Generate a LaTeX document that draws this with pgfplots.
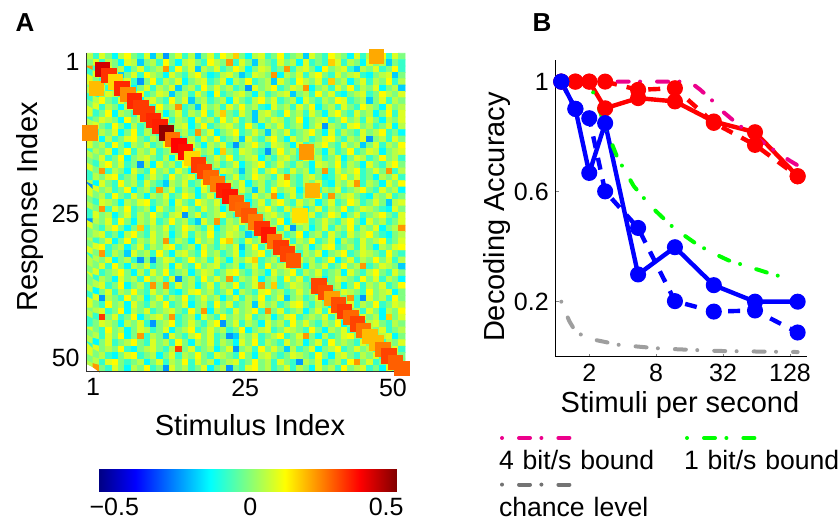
\documentclass[border=0pt]{standalone}
\usepackage{fontspec}
\setmainfont{Liberation Sans}
\usepackage{pgfplots}
\pgfplotsset{compat=1.18}
\begin{document}
\begin{tikzpicture}
\path[use as bounding box] (0pt,0pt) rectangle (419.5pt,-261.5pt);
\node[font=\bfseries\fontsize{13}{15}\selectfont] at (12.5pt,-11.25pt) {A};
\node[font=\bfseries\fontsize{13}{15}\selectfont] at (271pt,-11.25pt) {B};
% ---------------- Panel A ----------------
\begin{axis}[
  at={(43.35pt,-185.85pt)}, anchor=south west,
  scale only axis, width=159.15pt, height=159.2pt,
  xmin=0.5, xmax=50.5, ymin=0.5, ymax=50.5,
  axis lines*=left, axis line style={line width=0.6pt, black!80},
  axis on top, clip=false,
  colormap/jet,
  point meta min=-56, point meta max=54,
  xtick={1.49,25.4,48.6}, xticklabels={1,25,50},
  ytick={2.7,25.3,49.13}, yticklabels={50,25,1},
  major tick length=0pt,
  tick label style={font=\fontsize{12.5}{15}\selectfont},
  xlabel={Stimulus Index}, ylabel={Response Index},
  label style={font=\fontsize{14.5}{17}\selectfont},
  xlabel style={at={(axis description cs:0.513,-0.1675)}, anchor=center},
  ylabel style={at={(axis description cs:-0.178,0.517)}, anchor=center},
  colorbar horizontal,
  colorbar style={at={(parent axis.south west)}, anchor=north west,
    xshift=5.65pt, yshift=-40.15pt, scale only axis,
    width=149.5pt, height=11pt,
    xtick={-50,0,50}, xticklabels={−0.5,0,0.5},
    major tick length=0pt, axis line style={draw=none},
    tick label style={font=\fontsize{12.5}{15}\selectfont}},
]
\addplot[matrix plot*, mesh/cols=50, point meta=explicit, forget plot]
 table[header=false, row sep=\\, x expr={mod(\coordindex,50)+1}, y expr={50-floor(\coordindex/50)}, meta index=0] {
5\\-9\\9\\-1\\-15\\5\\13\\-1\\-9\\9\\
-20\\5\\-26\\-1\\9\\-9\\5\\-20\\-1\\9\\
-9\\13\\5\\18\\-1\\-15\\5\\9\\-9\\-1\\
13\\-9\\-1\\5\\-20\\9\\-1\\-9\\13\\5\\
-1\\-15\\9\\-9\\5\\22\\13\\-9\\9\\-1\\
-1\\9\\-9\\5\\-1\\-15\\9\\5\\-20\\-1\\
5\\-9\\13\\-1\\-15\\5\\9\\-1\\-9\\13\\
5\\-1\\24\\-9\\9\\-1\\-20\\5\\-1\\-9\\
9\\-1\\5\\-15\\9\\-9\\-1\\-9\\18\\9\\
-9\\5\\-1\\-15\\9\\-1\\5\\-20\\-1\\-9\\
24\\-9\\45\\9\\-1\\5\\-15\\-1\\9\\-9\\
-1\\5\\24\\-9\\13\\-1\\9\\-20\\5\\-1\\
9\\-9\\-1\\13\\5\\-15\\-1\\9\\5\\-9\\
-1\\24\\-9\\5\\9\\-1\\-15\\13\\-1\\5\\
9\\-9\\-20\\5\\-1\\9\\-9\\-1\\13\\-9\\
-9\\9\\-1\\35\\5\\-20\\-1\\9\\-9\\13\\
5\\-1\\-15\\9\\-1\\-9\\5\\13\\-1\\-15\\
-9\\5\\9\\-1\\-20\\-9\\9\\5\\-1\\24\\
-15\\5\\-1\\9\\-9\\5\\13\\-1\\-9\\9\\
-1\\5\\9\\-9\\-15\\-1\\5\\9\\-20\\-1\\
9\\-1\\-9\\5\\17\\-1\\9\\-9\\-26\\-1\\
13\\-9\\5\\-1\\9\\-15\\-1\\5\\9\\-9\\
-1\\9\\-15\\5\\-1\\13\\-9\\-1\\5\\-20\\
9\\-1\\-9\\13\\5\\-1\\9\\-9\\18\\-1\\
5\\-15\\-1\\9\\-9\\5\\-1\\13\\-9\\5\\
-1\\20\\9\\-9\\-1\\36\\5\\-15\\-1\\9\\
-9\\5\\-1\\9\\-20\\-1\\5\\-9\\13\\-1\\
9\\-1\\5\\-9\\-1\\-26\\9\\-1\\5\\13\\
-9\\-1\\9\\5\\24\\-15\\-1\\5\\-9\\9\\
-1\\13\\-9\\5\\-1\\9\\-15\\-1\\5\\-20\\
5\\-15\\-1\\9\\5\\-9\\25\\-1\\13\\-9\\
-1\\9\\5\\-20\\-1\\5\\-9\\9\\-1\\-15\\
13\\-9\\-1\\5\\9\\-1\\-15\\5\\-9\\-1\\
5\\9\\-20\\-1\\5\\-9\\13\\-1\\9\\-9\\
-15\\-1\\5\\9\\-9\\-1\\13\\5\\-1\\9\\
-9\\5\\13\\-1\\-9\\9\\-1\\36\\-15\\5\\
9\\-1\\-9\\13\\-1\\9\\-20\\-1\\5\\-9\\
-1\\5\\-15\\9\\-1\\-9\\5\\13\\-1\\9\\
-9\\-1\\5\\-15\\9\\-1\\-9\\5\\-1\\13\\
9\\-9\\-1\\5\\-20\\-1\\9\\-9\\5\\-1\\
-1\\9\\-9\\5\\-1\\-15\\5\\9\\34\\-1\\
-9\\13\\-1\\5\\24\\-9\\-1\\-20\\9\\-1\\
5\\-9\\9\\-1\\13\\-1\\5\\-9\\-15\\9\\
-1\\5\\-9\\9\\-1\\13\\-15\\-1\\5\\-9\\
9\\-1\\-9\\13\\5\\-1\\-15\\9\\-1\\5\\
9\\-9\\-1\\13\\-15\\5\\-1\\-9\\9\\34\\
-1\\5\\-15\\-1\\9\\-9\\5\\-1\\13\\-9\\
5\\18\\-1\\-9\\9\\-1\\-20\\5\\9\\-1\\
-9\\13\\-1\\5\\-9\\9\\-1\\-15\\5\\13\\
-1\\-9\\9\\-1\\5\\-15\\-1\\13\\-9\\9\\
-9\\-1\\9\\5\\-1\\-15\\13\\-1\\5\\-9\\
36\\-1\\9\\-9\\5\\-1\\-15\\9\\-1\\5\\
-9\\13\\-1\\9\\-9\\-1\\-20\\5\\-1\\9\\
5\\-9\\-1\\13\\-15\\-1\\5\\9\\-9\\-1\\
13\\-1\\5\\-9\\9\\-1\\-15\\5\\-1\\9\\
5\\9\\-1\\-9\\13\\-1\\-15\\5\\-9\\-1\\
9\\37\\-9\\-1\\5\\9\\-15\\-1\\13\\-9\\
-1\\5\\9\\-1\\-9\\13\\-1\\-15\\5\\-1\\
9\\-9\\-1\\5\\-15\\-1\\9\\-26\\5\\-1\\
-9\\9\\13\\-1\\5\\-9\\-1\\9\\-15\\5\\
25\\-9\\5\\-1\\9\\-15\\-1\\13\\-9\\5\\
-1\\-9\\52\\9\\-1\\5\\-9\\24\\-1\\9\\
-15\\-1\\5\\13\\-9\\-1\\9\\-1\\-20\\5\\
-1\\9\\-9\\-1\\5\\13\\-1\\-15\\9\\-9\\
5\\-1\\-9\\9\\-1\\5\\13\\-9\\-1\\-15\\
-1\\9\\-15\\5\\-9\\-1\\9\\13\\-1\\-9\\
5\\-1\\9\\28\\-15\\-1\\5\\-9\\9\\-1\\
13\\-9\\-1\\5\\-20\\9\\-1\\-9\\5\\13\\
-1\\-15\\9\\-1\\5\\-9\\-1\\9\\13\\-1\\
-9\\5\\-1\\9\\-26\\-1\\5\\-9\\9\\-1\\
9\\-1\\5\\-9\\13\\-1\\-15\\5\\-1\\9\\
-9\\-1\\13\\5\\40\\-9\\9\\-1\\-15\\5\\
-1\\9\\-9\\-26\\-1\\5\\13\\-1\\-9\\9\\
5\\-1\\-15\\9\\-9\\-1\\5\\13\\-1\\-9\\
9\\-1\\5\\-20\\-1\\9\\-9\\5\\-1\\13\\
-9\\5\\-1\\9\\-15\\-1\\13\\-9\\5\\-1\\
9\\-9\\-1\\5\\-1\\39\\-9\\9\\-1\\5\\
-15\\18\\-1\\-9\\9\\5\\-1\\-9\\-26\\-1\\
13\\-1\\5\\-9\\24\\9\\-1\\-15\\5\\-9\\
-1\\13\\-9\\-1\\9\\5\\-15\\-1\\5\\9\\
5\\-1\\9\\-9\\-1\\13\\-15\\-1\\5\\9\\
-1\\-9\\5\\-15\\9\\-1\\17\\5\\-9\\-1\\
9\\-1\\13\\-9\\-1\\5\\9\\-15\\-1\\-9\\
5\\9\\-1\\-9\\13\\-1\\5\\-9\\-1\\9\\
-15\\-1\\9\\5\\-9\\-1\\13\\-1\\5\\-9\\
-1\\-9\\5\\13\\-1\\9\\-9\\-1\\-26\\5\\
-15\\9\\-1\\5\\-9\\13\\-1\\34\\9\\-1\\
5\\-9\\-1\\9\\-15\\-1\\5\\13\\-9\\-1\\
9\\-1\\-9\\5\\-1\\-15\\9\\5\\-1\\13\\
-9\\5\\-1\\-15\\9\\-1\\-9\\5\\13\\-1\\
9\\-1\\24\\-9\\5\\-1\\-15\\9\\-1\\-9\\
13\\-1\\5\\-9\\9\\-1\\-15\\5\\33\\-1\\
-9\\9\\5\\-1\\-20\\-1\\9\\-9\\5\\13\\
-1\\-9\\9\\-1\\5\\-15\\-1\\24\\-9\\9\\
-1\\5\\13\\-9\\-1\\9\\-1\\24\\-9\\5\\
-9\\5\\-1\\9\\13\\-9\\-1\\5\\-15\\-1\\
9\\-1\\-9\\13\\-1\\5\\9\\-9\\-1\\29\\
5\\-15\\-1\\9\\-9\\-1\\13\\5\\-1\\-9\\
9\\24\\-1\\-9\\5\\9\\-1\\-15\\-9\\5\\
13\\-1\\9\\-9\\-1\\-15\\5\\-1\\9\\-9\\
5\\-15\\9\\-1\\-9\\13\\-1\\5\\-9\\9\\
-1\\-9\\-20\\5\\-1\\9\\-9\\-1\\13\\-1\\
27\\-9\\5\\-1\\9\\-15\\-1\\5\\-9\\-1\\
9\\13\\-1\\-9\\5\\-1\\9\\-9\\-15\\5\\
-1\\9\\24\\-9\\5\\-1\\-15\\9\\-1\\13\\
-26\\9\\-1\\5\\-9\\-1\\13\\-15\\-1\\5\\
-9\\24\\-1\\9\\-9\\5\\-1\\-15\\9\\-1\\
5\\37\\-9\\-1\\9\\-1\\-20\\5\\-9\\13\\
-1\\5\\9\\-15\\-1\\21\\-9\\5\\-1\\9\\
-9\\-1\\5\\13\\-1\\-9\\9\\-1\\5\\-15\\
9\\-1\\5\\-9\\13\\-1\\-9\\9\\-1\\-15\\
5\\-1\\9\\-9\\-1\\13\\5\\-15\\-1\\9\\
-9\\-1\\38\\5\\-1\\-9\\9\\-1\\5\\24\\
-15\\-1\\9\\-9\\5\\-1\\13\\-9\\24\\-1\\
5\\9\\-1\\-9\\-15\\5\\-1\\9\\-9\\-1\\
-1\\-9\\9\\5\\-1\\-15\\5\\-1\\9\\13\\
-9\\-1\\5\\-15\\9\\-1\\-9\\13\\5\\-1\\
9\\-9\\-1\\30\\5\\-15\\-1\\9\\-9\\5\\
13\\-1\\-9\\9\\-1\\5\\-15\\-1\\9\\-9\\
-1\\13\\5\\-9\\-1\\9\\-1\\-20\\5\\9\\
5\\-1\\24\\-9\\9\\-1\\13\\-9\\-1\\5\\
-15\\9\\-1\\-9\\5\\13\\-1\\-9\\9\\-1\\
5\\-15\\-1\\9\\29\\-9\\-1\\5\\13\\-1\\
-9\\9\\-1\\5\\-15\\-1\\9\\-9\\5\\-1\\
13\\-9\\-1\\9\\5\\-1\\-9\\-15\\9\\-1\\
-9\\9\\-1\\5\\-15\\-1\\9\\-9\\5\\-1\\
13\\-1\\-9\\5\\9\\-26\\-1\\9\\-9\\-1\\
5\\13\\-1\\-9\\9\\31\\-15\\-1\\5\\9\\
-1\\-9\\5\\16\\-1\\9\\-9\\-1\\13\\5\\
-15\\-1\\9\\-9\\-1\\5\\13\\-1\\-9\\9\\
-26\\5\\-1\\9\\-9\\13\\-1\\-15\\5\\-1\\
9\\-9\\-1\\13\\-1\\5\\-9\\-20\\9\\-1\\
24\\-9\\5\\-1\\9\\-1\\27\\-9\\5\\-1\\
13\\-15\\-1\\9\\5\\-9\\-1\\9\\-1\\-9\\
5\\13\\-1\\-15\\9\\-1\\5\\-9\\-1\\9\\
9\\-1\\-9\\5\\13\\-1\\-15\\-1\\18\\-9\\
5\\-1\\9\\-9\\-1\\13\\5\\-1\\-9\\9\\
-15\\-1\\5\\9\\-9\\-1\\13\\35\\-1\\5\\
-9\\9\\-26\\-1\\5\\-15\\-1\\9\\-9\\5\\
-1\\13\\-9\\5\\-1\\9\\-15\\-1\\5\\24\\
-1\\5\\9\\-9\\-1\\-15\\5\\13\\-1\\-9\\
9\\-1\\5\\-15\\-1\\9\\-9\\5\\-1\\13\\
-9\\-1\\9\\5\\-1\\-20\\-9\\9\\38\\-1\\
5\\-9\\-1\\13\\-15\\-1\\5\\-9\\9\\-1\\
-9\\9\\-1\\5\\13\\-1\\-9\\-15\\-1\\5\\
5\\-9\\-1\\9\\-15\\-1\\13\\-9\\5\\-1\\
9\\-1\\24\\-9\\5\\-1\\-15\\9\\-1\\5\\
-9\\13\\18\\-1\\-9\\9\\-1\\5\\-15\\28\\
-1\\9\\-9\\5\\-1\\13\\-9\\-1\\9\\-15\\
5\\-1\\-9\\9\\-1\\5\\13\\-9\\-1\\9\\
-1\\9\\13\\-9\\-1\\5\\-15\\-1\\9\\-9\\
5\\-1\\9\\13\\-9\\-1\\5\\-15\\9\\-1\\
-9\\5\\-1\\9\\-20\\-1\\13\\-9\\5\\-1\\
34\\-9\\9\\-1\\5\\-15\\-1\\9\\13\\-9\\
-1\\5\\-9\\9\\-1\\-15\\5\\-1\\9\\13\\
9\\-1\\24\\-9\\5\\-1\\-20\\9\\-1\\5\\
-9\\13\\-1\\-15\\5\\9\\-1\\-9\\13\\-1\\
5\\-9\\-1\\9\\-15\\-1\\5\\13\\-9\\-1\\
9\\33\\-1\\-9\\5\\-1\\9\\-15\\-1\\5\\
13\\-9\\-1\\9\\5\\-1\\-9\\13\\-1\\-9\\
-9\\5\\-1\\9\\-15\\-1\\5\\-9\\-26\\-1\\
-26\\-1\\9\\5\\-9\\-1\\13\\-1\\5\\-9\\
9\\-1\\-15\\5\\-1\\9\\18\\-9\\-1\\5\\
-9\\-1\\31\\9\\-1\\5\\-9\\-1\\13\\-15\\
-1\\9\\-9\\5\\-1\\13\\-1\\9\\-9\\5\\
5\\-1\\9\\-9\\13\\-1\\-15\\5\\-1\\9\\
-9\\-1\\5\\-15\\9\\-1\\-9\\13\\-1\\5\\
9\\-9\\-1\\5\\-15\\-1\\9\\-9\\13\\-1\\
5\\9\\-9\\-1\\-15\\5\\-1\\9\\-9\\-1\\
13\\-1\\5\\24\\-9\\-1\\9\\5\\-1\\-20\\
-1\\9\\-9\\-1\\5\\13\\-1\\-15\\5\\-9\\
9\\-1\\13\\-9\\-1\\5\\-15\\-1\\9\\5\\
-9\\-1\\9\\13\\-1\\-9\\5\\-1\\-15\\9\\
-1\\5\\13\\-9\\5\\-1\\9\\-9\\-1\\5\\
-15\\9\\-1\\-9\\5\\13\\-1\\-9\\9\\-1\\
9\\-9\\5\\-1\\-15\\9\\-1\\5\\-9\\13\\
-1\\5\\-9\\9\\-26\\-1\\5\\-9\\13\\-1\\
9\\-1\\24\\-9\\5\\-1\\9\\-15\\-1\\5\\
-9\\13\\-1\\9\\-9\\-1\\5\\-15\\-1\\9\\
5\\-1\\-9\\13\\-1\\9\\-9\\5\\-1\\-15\\
-1\\5\\9\\-9\\-1\\13\\-15\\-1\\5\\-9\\
24\\-1\\24\\-9\\9\\-1\\5\\-15\\-1\\9\\
-9\\5\\-1\\13\\-9\\-1\\9\\24\\-1\\18\\
-9\\-1\\9\\5\\-1\\-9\\33\\9\\-1\\5\\
-15\\-1\\13\\-9\\5\\-1\\9\\-9\\-1\\13\\
5\\-15\\-1\\9\\-9\\5\\-1\\13\\-1\\-9\\
9\\-1\\5\\-9\\-15\\-1\\9\\13\\-1\\5\\
-9\\-1\\9\\-15\\5\\-1\\-9\\9\\13\\-1\\
5\\-9\\-1\\9\\-1\\5\\-15\\32\\-9\\-1\\
9\\5\\-1\\-9\\13\\-1\\5\\9\\-15\\-1\\
-9\\9\\-26\\5\\-1\\-9\\13\\-1\\5\\-15\\
-1\\9\\-9\\5\\-1\\13\\-9\\-1\\9\\-1\\
5\\-15\\-1\\9\\-9\\5\\-1\\13\\-9\\-1\\
9\\-20\\-1\\5\\-9\\-1\\9\\-15\\23\\5\\
-1\\24\\-9\\-26\\9\\-1\\5\\-9\\13\\-1\\
9\\-1\\-9\\13\\-1\\5\\-15\\9\\-1\\-9\\
5\\-1\\13\\-9\\-1\\9\\-15\\-1\\5\\-9\\
13\\-1\\9\\-9\\-1\\5\\-20\\9\\-1\\5\\
-9\\-1\\9\\13\\-1\\-9\\5\\-1\\-15\\32\\
-1\\9\\-9\\5\\-1\\13\\-9\\-1\\9\\5\\
-1\\5\\9\\-9\\-1\\13\\-15\\5\\-1\\9\\
-9\\-1\\5\\9\\-1\\-9\\13\\-1\\24\\-15\\
5\\-1\\-9\\9\\-1\\5\\13\\-9\\24\\-1\\
9\\-9\\-1\\5\\-15\\-1\\9\\-9\\13\\-1\\
34\\-1\\5\\-9\\9\\-1\\-15\\5\\-1\\13\\
5\\-9\\35\\-1\\9\\-9\\-1\\13\\-15\\-1\\
5\\9\\-1\\24\\-9\\-1\\5\\-15\\9\\-1\\
-9\\13\\-1\\5\\-1\\9\\-9\\-1\\5\\-15\\
-1\\9\\13\\-9\\-1\\5\\-1\\9\\-9\\5\\
-1\\29\\-9\\9\\-1\\5\\-15\\18\\-1\\9\\
-9\\-1\\9\\5\\-1\\-15\\5\\-1\\9\\-9\\
-26\\-1\\5\\13\\-9\\-1\\9\\-1\\-9\\5\\
13\\-26\\-1\\9\\-9\\5\\-1\\-15\\9\\-1\\
5\\-9\\13\\-1\\9\\-1\\-9\\5\\-1\\13\\
-15\\-1\\33\\-9\\5\\9\\-1\\-9\\5\\-1\\
9\\-1\\-9\\13\\-1\\5\\-15\\-1\\9\\5\\
-9\\-1\\9\\-15\\-1\\5\\13\\-9\\-1\\9\\
-1\\5\\-9\\-1\\13\\-15\\-1\\5\\9\\-9\\
-1\\9\\5\\-1\\-9\\13\\-1\\-15\\5\\-1\\
9\\-9\\-1\\28\\5\\-1\\9\\-9\\-1\\5\\
-1\\5\\-9\\9\\-1\\13\\-15\\-1\\24\\-9\\
5\\-1\\-20\\9\\-1\\-9\\5\\13\\-1\\9\\
-9\\-1\\-26\\-20\\5\\-1\\9\\-9\\-1\\5\\
13\\-9\\-1\\9\\24\\-1\\-15\\5\\-9\\-1\\
9\\13\\-1\\-9\\20\\-1\\5\\9\\-15\\-1\\
5\\-15\\-1\\9\\-9\\-1\\5\\13\\-1\\-9\\
9\\-1\\5\\-9\\13\\-1\\-15\\5\\-1\\9\\
-9\\5\\-1\\-15\\9\\-1\\13\\-9\\5\\-1\\
-9\\9\\-1\\5\\-15\\-1\\9\\-9\\13\\-1\\
5\\-1\\-9\\9\\-1\\20\\-9\\5\\-1\\9\\
-9\\9\\-1\\5\\-1\\13\\-9\\-15\\-1\\5\\
9\\-1\\-9\\5\\33\\-1\\9\\-9\\-1\\5\\
-15\\-1\\9\\-26\\-1\\5\\-9\\13\\-1\\9\\
-1\\-20\\5\\-9\\-1\\9\\-15\\-1\\5\\13\\
-9\\-1\\9\\-1\\5\\-9\\27\\-1\\9\\-9\\
9\\-1\\5\\-9\\-15\\-1\\9\\13\\-9\\-1\\
5\\-15\\-1\\9\\-9\\5\\-1\\13\\-1\\-9\\
9\\5\\-1\\-9\\13\\-1\\-15\\5\\9\\-1\\
-9\\-1\\9\\5\\-1\\-9\\13\\-1\\-15\\5\\
9\\-1\\-9\\5\\-1\\9\\-9\\33\\5\\-1\\
-1\\5\\-9\\9\\13\\-1\\-9\\-1\\5\\-15\\
-1\\9\\-9\\5\\-1\\13\\-9\\9\\-1\\5\\
-15\\-1\\5\\9\\-9\\-1\\13\\-1\\5\\-9\\
9\\-1\\-9\\-26\\5\\-1\\9\\-15\\-1\\5\\
-9\\13\\24\\-1\\9\\-9\\-1\\5\\30\\-1\\
5\\24\\-1\\-9\\9\\-1\\-15\\5\\-1\\13\\
-9\\-1\\-26\\9\\-1\\5\\-9\\-1\\9\\-15\\
-1\\5\\-26\\-1\\-9\\9\\13\\-1\\5\\-9\\
-1\\9\\-9\\5\\-1\\-15\\9\\-1\\5\\-9\\
13\\-1\\5\\9\\-9\\-1\\-15\\9\\-1\\30\\
};
\addplot[scatter, only marks, mark=square*, mark size=3.6pt, point meta=explicit,
  scatter/use mapped color={draw=mapped color, fill=mapped color}, forget plot]
 coordinates {
 (1,38)[25] (2,45)[20]
 (3,48)[45] (4,47)[35] (5,46)[17] (6,45)[36] (7,44)[25] (8,43)[36] (9,42)[34] (10,41)[34]
 (11,40)[36] (12,39)[37] (13,38)[52] (14,37)[28] (15,36)[40] (16,35)[39] (17,34)[17] (18,33)[34]
 (19,32)[33] (20,31)[29] (21,30)[27] (22,29)[37] (23,28)[38] (24,27)[30] (25,26)[29] (26,25)[31]
 (27,24)[27] (28,23)[35] (29,22)[38] (30,21)[28] (31,20)[34] (32,19)[33] (33,18)[31]
 (34,25)[16] (35,35)[24] (36,29)[21]
 (37,14)[33] (38,13)[32] (39,12)[23] (40,11)[32] (41,10)[34] (42,9)[29] (43,8)[33] (44,7)[28]
 (45,6)[20] (46,50)[22] (46,5)[20] (47,4)[27] (48,3)[33] (49,2)[30] (50,1)[30]
 };
\end{axis}
% ---------------- Panel B ----------------
\begin{axis}[
  at={(277.9pt,-178.35pt)}, anchor=south west,
  scale only axis, width=125.45pt, height=148.55pt,
  xmode=log, log basis x=2, xmin=1, xmax=181, ymin=0, ymax=1.08,
  axis lines*=left, axis line style={line width=0.6pt, black},
  tick align=inside, major tick length=1.5pt, minor xtick={}, minor ytick={},
  xtick={2,8,32,128}, xticklabels={2,8,32,128},
  ytick={0.2,0.6,1}, yticklabels={0.2,0.6,1},
  tick label style={font=\fontsize{12.5}{15}\selectfont},
  yticklabel style={anchor=east},
  xlabel={Stimuli per second}, ylabel={Decoding Accuracy},
  label style={font=\fontsize{14.5}{17}\selectfont},
  xlabel style={at={(axis description cs:0.495,-0.164)}, anchor=center},
  ylabel style={at={(axis description cs:-0.235,0.47)}, anchor=center},
  clip=false,
  legend columns=2, legend cell align=left,
  legend style={at={(axis description cs:-0.2423,-0.314)}, anchor=north west,
    draw=none, fill=none, inner sep=0pt, outer sep=0pt, row sep=13.3pt, column sep=0pt,
    nodes={inner sep=0pt, text width=90.5pt, text height=10pt, text depth=0pt, align=left,
      font=\fontsize{13.3}{15}\selectfont}},
  legend image code/.code={\path (0pt,0pt); \draw[#1, overlay] (2.5pt,11pt) -- (39pt,11pt);},
]
\addplot[red, line width=2.2pt, mark=*, mark size=2.9pt, forget plot] coordinates {
 (1.12,1) (1.5,1) (2,1) (2.78,0.903) (5.5,0.94) (11.8,0.928) (26.4,0.855) (62,0.816) (150,0.656)};
\addplot[red, line width=2.2pt, dash pattern=on 6pt off 5pt, mark=*, mark size=2.9pt, mark options={solid}, forget plot] coordinates {
 (1.12,1) (1.5,1) (2,1) (2.78,1) (5.5,0.97) (11.8,0.976) (26.4,0.85) (62,0.77) (150,0.656)};
\addplot[magenta, line width=2pt, line cap=round, dash pattern=on 0pt off 8.5pt on 5.5pt off 5.7pt, forget plot] coordinates {
 (1.12,1) (16,1) (20,0.97) (25,0.935) (32,0.89) (45,0.84) (64,0.795) (90,0.753) (128,0.712) (148,0.697)};
\addplot[blue, line width=2.2pt, mark=*, mark size=2.9pt, forget plot] coordinates {
 (1.12,1) (1.5,0.901) (2,0.668) (2.78,0.849) (5.5,0.299) (11.8,0.398) (26.4,0.26) (62,0.2) (150,0.2)};
\addplot[blue, line width=2.2pt, dash pattern=on 6pt off 5pt, mark=*, mark size=2.9pt, mark options={solid}, forget plot] coordinates {
 (1.12,1) (1.5,0.901) (2,0.867) (2.78,0.601) (5.5,0.468) (11.8,0.202) (26.4,0.164) (62,0.168) (150,0.088)};
\addplot[green, line width=2pt, line cap=round, dash pattern=on 0pt off 8.5pt on 5.5pt off 5.7pt, forget plot] coordinates {
 (1.12,1) (2,1) (2.38,0.916) (2.92,0.813) (3.6,0.722) (5.03,0.62) (7.15,0.547) (10.8,0.478) (13.3,0.45) (18.7,0.408) (25.5,0.378) (35.9,0.35) (54.3,0.327) (79.4,0.306) (118,0.286)};
\addplot[black!38, line width=2pt, line cap=round, dash pattern=on 0pt off 8.5pt on 5.5pt off 5.7pt, forget plot] coordinates {
 (1.12,0.2) (1.32,0.13) (1.52,0.088) (2.14,0.063) (3.71,0.043) (7.9,0.031) (12.4,0.027) (28.3,0.021) (60,0.019) (150,0.017)};
\addlegendimage{magenta, line width=2pt, line cap=round, dash pattern=on 0pt off 8.5pt on 5.5pt off 5.7pt}
\addlegendentry{4 bit/s bound}
\addlegendimage{green, line width=2pt, line cap=round, dash pattern=on 0pt off 8.5pt on 5.5pt off 5.7pt}
\addlegendentry{1 bit/s bound}
\addlegendimage{black!55, line width=2pt, line cap=round, dash pattern=on 0pt off 8.5pt on 5.5pt off 5.7pt}
\addlegendentry{chance level}
\end{axis}
\end{tikzpicture}
\end{document}
